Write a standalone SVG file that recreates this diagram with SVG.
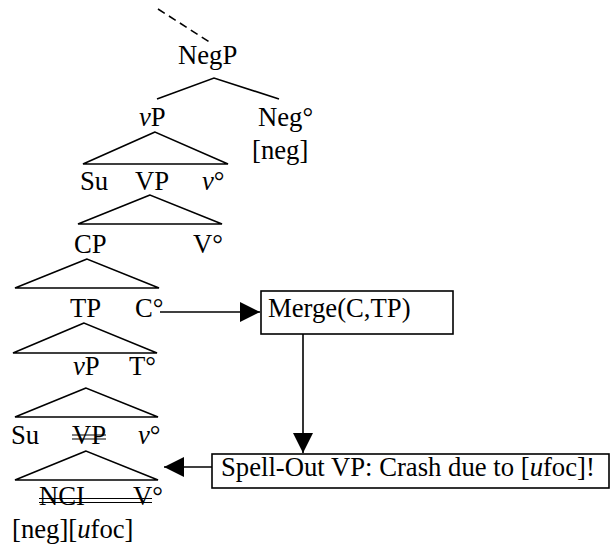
<svg xmlns="http://www.w3.org/2000/svg" width="610" height="548" viewBox="0 0 610 548">
<style>
text{font-family:"Liberation Serif","Times New Roman",serif;font-size:26.7px;fill:#000}
.i{font-style:italic}
.ln{stroke:#000;stroke-width:1.6;fill:none}
.tri{stroke:#000;stroke-width:1.6;fill:none;stroke-linejoin:miter}
.box{stroke:#000;stroke-width:1.6;fill:#fff}
.st{stroke:#000;stroke-width:1.2}
</style>
<defs>
<marker id="ah" markerUnits="userSpaceOnUse" markerWidth="20" markerHeight="20" viewBox="0 0 20 20" refX="20" refY="10" orient="auto">
<path d="M0,0 L20,10 L0,20 z" fill="#000"/>
</marker>
</defs>
<g id="tree">
<line class="ln" x1="158" y1="9" x2="211" y2="43" stroke-dasharray="8,5"/>
<g id="negp"><text x="178" y="64">NegP</text>
<polyline class="ln" points="157,99 214,78 279,99"/></g>
<g id="vp1"><text x="139" y="126"><tspan class="i">v</tspan>P</text>
<polygon class="tri" points="155,132 83,164 228,164"/></g>
<g id="neg"><text x="258" y="126">Neg°</text><text x="252" y="159">[neg]</text></g>
<g id="row1"><text x="80" y="190">Su</text><text x="135" y="190">VP</text><text x="202" y="190"><tspan class="i">v</tspan>°</text>
<polygon class="tri" points="150,195 78,224 222,224"/></g>
<g id="row2"><text x="74" y="253">CP</text><text x="193" y="253">V°</text>
<polygon class="tri" points="87,259 15,288 159,288"/></g>
<g id="row3"><text x="70" y="317">TP</text><text x="135" y="317">C°</text>
<polygon class="tri" points="84,323 13,353 157,353"/></g>
<g id="row4"><text x="73" y="375"><tspan class="i">v</tspan>P</text><text x="129" y="375">T°</text>
<polygon class="tri" points="86,388 15,417 158,417"/></g>
<g id="row5"><text x="11" y="444">Su</text><text x="72" y="444">VP</text><text x="138" y="444"><tspan class="i">v</tspan>°</text>
<line class="st" x1="72" y1="435" x2="106" y2="435"/><line class="st" x1="72" y1="439" x2="106" y2="439"/>
<polygon class="tri" points="86,451 15,480 158,480"/></g>
<g id="row6"><text x="39" y="505">NCI</text><text x="133" y="505">V°</text>
<line class="st" x1="39" y1="498.5" x2="152" y2="498.5"/><line class="st" x1="39" y1="502.5" x2="152" y2="502.5"/>
<text x="12" y="538">[neg][<tspan class="i">u</tspan>foc]</text></g>
</g>
<g id="merge"><rect class="box" x="261" y="291" width="192" height="43"/><text x="268" y="317">Merge(C,TP)</text></g>
<g id="spellout"><rect class="box" x="212" y="454" width="397" height="34"/><text x="221" y="476">Spell-Out VP: Crash due to [<tspan class="i">u</tspan>foc]!</text></g>
<g id="connectors">
<line class="ln" x1="160" y1="312" x2="260" y2="312" marker-end="url(#ah)"/>
<line class="ln" x1="303" y1="334" x2="303" y2="453" marker-end="url(#ah)"/>
<line class="ln" x1="212" y1="467" x2="164" y2="467" marker-end="url(#ah)"/>
</g>
</svg>
